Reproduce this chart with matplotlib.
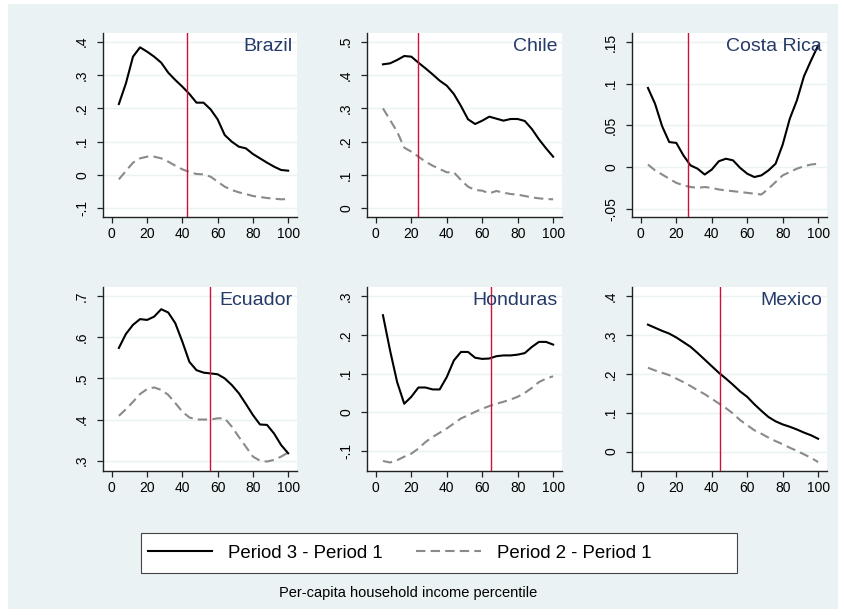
#!/usr/bin/env python3
"""Income growth incidence by percentile, six Latin American countries."""

import matplotlib
matplotlib.use('Agg')
import matplotlib.pyplot as plt
from matplotlib.lines import Line2D
from matplotlib.patches import Rectangle
from matplotlib.ticker import FixedLocator, FuncFormatter

# --- Data ---
PCTL = [4, 8, 12, 16, 20, 24, 28, 32, 36, 40, 44, 48, 52,
        56, 60, 64, 68, 72, 76, 80, 84, 88, 92, 96, 100]

COUNTRIES = ['Brazil', 'Chile', 'Costa Rica', 'Ecuador', 'Honduras', 'Mexico']

brazil_p3 = [0.213, 0.275, 0.355, 0.383, 0.370, 0.355, 0.337, 0.307, 0.285, 0.265, 0.243, 0.217, 0.217,
             0.197, 0.167, 0.120, 0.100, 0.085, 0.080, 0.063, 0.050, 0.037, 0.025, 0.015, 0.013]
brazil_p2 = [-0.013, 0.012, 0.037, 0.050, 0.055, 0.055, 0.050, 0.040, 0.028, 0.017, 0.009, 0.003, 0.002,
             -0.005, -0.020, -0.035, -0.045, -0.052, -0.057, -0.063, -0.066, -0.069, -0.071, -0.073, -0.072]

chile_p3 = [0.432, 0.435, 0.445, 0.457, 0.455, 0.437, 0.420, 0.402, 0.383, 0.368, 0.343, 0.307, 0.267,
            0.253, 0.263, 0.275, 0.269, 0.263, 0.268, 0.268, 0.262, 0.238, 0.207, 0.180, 0.155]
chile_p2 = [0.300, 0.265, 0.230, 0.182, 0.170, 0.155, 0.140, 0.128, 0.118, 0.108, 0.108, 0.085, 0.065,
            0.055, 0.053, 0.045, 0.052, 0.047, 0.043, 0.041, 0.037, 0.033, 0.030, 0.028, 0.027]

costa_p3 = [0.095, 0.076, 0.049, 0.030, 0.029, 0.014, 0.002, -0.002, -0.009, -0.003, 0.007, 0.010, 0.008,
            -0.001, -0.008, -0.012, -0.010, -0.004, 0.004, 0.027, 0.058, 0.080, 0.109, 0.128, 0.146]
costa_p2 = [0.003, -0.004, -0.009, -0.014, -0.019, -0.022, -0.024, -0.025, -0.024, -0.025, -0.027, -0.028, -0.029,
            -0.030, -0.031, -0.032, -0.033, -0.026, -0.018, -0.010, -0.006, -0.002, 0.001, 0.003, 0.004]

ecuador_p3 = [0.574, 0.608, 0.630, 0.644, 0.642, 0.650, 0.668, 0.660, 0.634, 0.589, 0.540, 0.520, 0.514,
              0.512, 0.510, 0.500, 0.484, 0.464, 0.438, 0.411, 0.388, 0.387, 0.366, 0.338, 0.318]
ecuador_p2 = [0.409, 0.425, 0.443, 0.462, 0.474, 0.478, 0.472, 0.460, 0.440, 0.419, 0.405, 0.400, 0.400,
              0.400, 0.403, 0.403, 0.383, 0.358, 0.334, 0.310, 0.300, 0.298, 0.302, 0.310, 0.320]

honduras_p3 = [0.251, 0.160, 0.078, 0.022, 0.040, 0.064, 0.064, 0.059, 0.059, 0.091, 0.134, 0.156, 0.156,
               0.141, 0.138, 0.139, 0.145, 0.147, 0.147, 0.149, 0.153, 0.169, 0.182, 0.182, 0.175]
honduras_p2 = [-0.126, -0.130, -0.124, -0.115, -0.107, -0.094, -0.077, -0.064, -0.053, -0.042, -0.029, -0.016, -0.008,
               0.001, 0.009, 0.016, 0.022, 0.027, 0.033, 0.040, 0.050, 0.063, 0.078, 0.087, 0.093]

mexico_p3 = [0.327, 0.319, 0.311, 0.304, 0.294, 0.282, 0.270, 0.254, 0.237, 0.220, 0.203, 0.188, 0.172,
             0.155, 0.141, 0.122, 0.105, 0.089, 0.078, 0.070, 0.064, 0.057, 0.049, 0.042, 0.033]
mexico_p2 = [0.216, 0.209, 0.203, 0.197, 0.188, 0.179, 0.169, 0.158, 0.148, 0.136, 0.124, 0.112, 0.098,
             0.081, 0.068, 0.055, 0.046, 0.036, 0.027, 0.019, 0.010, 0.002, -0.007, -0.016, -0.027]

SERIES_P3 = [brazil_p3, chile_p3, costa_p3, ecuador_p3, honduras_p3, mexico_p3]
SERIES_P2 = [brazil_p2, chile_p2, costa_p2, ecuador_p2, honduras_p2, mexico_p2]

# percentile marked by the vertical line in each panel
CUTOFF = [42.5, 24, 26.4, 55.5, 65, 44.5]

Y_TICKS = [
    [-0.1, 0, 0.1, 0.2, 0.3, 0.4],
    [0, 0.1, 0.2, 0.3, 0.4, 0.5],
    [-0.05, 0, 0.05, 0.1, 0.15],
    [0.3, 0.4, 0.5, 0.6, 0.7],
    [-0.1, 0, 0.1, 0.2, 0.3],
    [0, 0.1, 0.2, 0.3, 0.4],
]
Y_LIMS = [(-0.126, 0.426), (-0.026, 0.526), (-0.06, 0.161),
          (0.275, 0.722), (-0.152, 0.324), (-0.050, 0.424)]
X_TICKS = [0, 20, 40, 60, 80, 100]

LEGEND_LABELS = ['Period 3 - Period 1', 'Period 2 - Period 1']
X_LABEL = 'Per-capita household income percentile'

# --- Style ---
BG       = '#eaf2f3'
TITLE_C  = '#263a68'
VLINE_C  = '#d0103a'
DASH_C   = '#8a8a8a'
W, H     = 844, 615

plt.rcParams['font.family'] = ['Liberation Sans', 'DejaVu Sans']


def stata_fmt(v, _pos=None):
    """Stata style tick label: drop the leading zero."""
    s = f'{v:g}'
    if s.startswith('0.'):
        s = s[1:]
    elif s.startswith('-0.'):
        s = '-' + s[2:]
    return s


fig = plt.figure(figsize=(W / 100, H / 100), dpi=100)
fig.patch.set_facecolor('white')
fig.patches.append(Rectangle((8 / W, 1 - 609 / H), 830 / W, 605 / H,
                             transform=fig.transFigure, facecolor=BG,
                             edgecolor='none', zorder=-10))

# panel boxes in pixels: left, top, right, bottom
COL_X = [(103, 297), (367, 562), (632, 827)]
ROW_Y = [(33, 217), (287, 471)]

for i, name in enumerate(COUNTRIES):
    r, c = divmod(i, 3)
    x0, x1 = COL_X[c]
    y0, y1 = ROW_Y[r]
    ax = fig.add_axes([x0 / W, 1 - y1 / H, (x1 - x0) / W, (y1 - y0) / H])
    ax.set_facecolor('white')

    for t in Y_TICKS[i]:
        ax.axhline(t, color=BG, linewidth=1.0, zorder=1)

    ax.plot(PCTL, SERIES_P2[i], color=DASH_C, linewidth=1.5,
            dashes=(4.5, 2.5), zorder=3)
    ax.plot(PCTL, SERIES_P3[i], color='black', linewidth=1.5, zorder=4)
    ax.axvline(CUTOFF[i], color=VLINE_C, linewidth=1.0, zorder=5)

    ax.set_xlim(-5, 105)
    ax.set_ylim(*Y_LIMS[i])
    ax.xaxis.set_major_locator(FixedLocator(X_TICKS))
    ax.yaxis.set_major_locator(FixedLocator(Y_TICKS[i]))
    ax.yaxis.set_major_formatter(FuncFormatter(stata_fmt))

    for side in ('top', 'right'):
        ax.spines[side].set_visible(False)
    for side in ('left', 'bottom'):
        ax.spines[side].set_linewidth(1.0)
        ax.spines[side].set_color('#222222')

    ax.tick_params(axis='both', direction='out', length=4, width=0.9,
                   color='#222222', labelsize=10, labelcolor='black')
    ax.tick_params(axis='x', pad=3)
    ax.tick_params(axis='y', pad=6)
    for lab in ax.get_yticklabels():
        lab.set_rotation(90)
        lab.set_va('center')

    ax.text(0.975, 0.975, name, transform=ax.transAxes, ha='right', va='top',
            fontsize=14, color=TITLE_C, zorder=6)

# --- Legend ---
# white box drawn separately so its width matches the reference
fig.patches.append(Rectangle((141 / W, 1 - 573 / H), 596 / W, 40 / H,
                             transform=fig.transFigure, facecolor='white',
                             edgecolor='#444444', linewidth=0.8, zorder=-5))
handles = [
    Line2D([], [], color='black', linewidth=1.5),
    Line2D([], [], color=DASH_C, linewidth=1.5, dashes=(4.5, 2.5)),
]
fig.legend(handles, LEGEND_LABELS, loc='center left', ncol=2, frameon=False,
           bbox_to_anchor=(148 / W, 1 - 553 / H), borderaxespad=0,
           borderpad=0, fontsize=13.4, handlelength=3.45,
           handletextpad=0.86, columnspacing=1.8)

fig.text(408 / W, 1 - 593 / H, X_LABEL, ha='center', va='center', fontsize=10.5)

fig.savefig('out.png', dpi=100, facecolor=fig.get_facecolor())
